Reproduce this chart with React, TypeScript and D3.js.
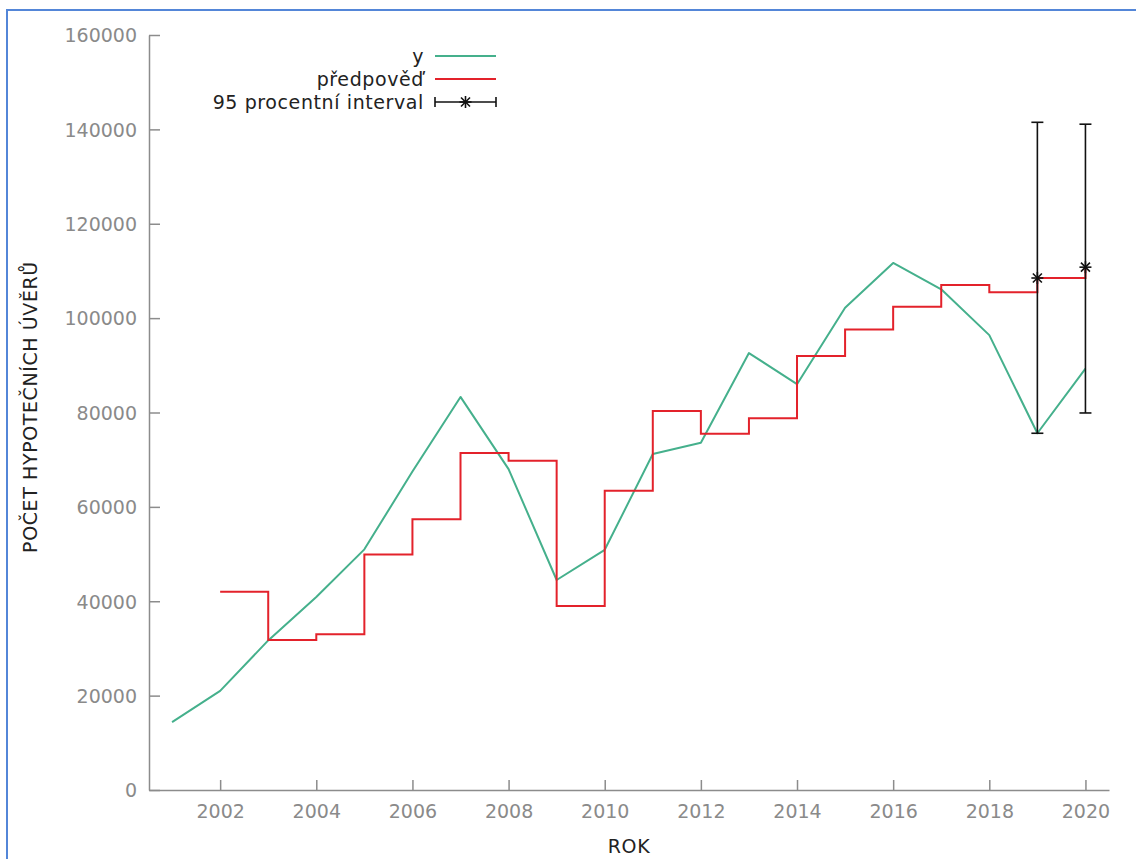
import { useEffect, useRef } from 'react'
import * as d3 from 'd3'

// observed series (y)
const years = [2001, 2002, 2003, 2004, 2005, 2006, 2007, 2008, 2009, 2010,
  2011, 2012, 2013, 2014, 2015, 2016, 2017, 2018, 2019, 2020]
const yValues = [14400, 21000, 31700, 40900, 51000, 67500, 83300, 68000, 44500, 50900,
  71200, 73600, 92600, 86000, 102200, 111700, 106100, 96400, 75600, 89300]

// one-step forecast (předpověď)
const predYears = [2002, 2003, 2004, 2005, 2006, 2007, 2008, 2009, 2010, 2011,
  2012, 2013, 2014, 2015, 2016, 2017, 2018, 2019, 2020]
const predValues = [42000, 31800, 33000, 49900, 57400, 71400, 69800, 39000, 63400, 80300,
  75500, 78800, 92000, 97600, 102400, 107000, 105500, 108500, 110800]

// 95% interval
const ciYears = [2019, 2020]
const ciCenter = [108500, 110800]
const ciLow = [75600, 79900]
const ciHigh = [141500, 141100]

const xTicks = [2002, 2004, 2006, 2008, 2010, 2012, 2014, 2016, 2018, 2020]
const yTicks = [0, 20000, 40000, 60000, 80000, 100000, 120000, 140000, 160000]

const legendLabels = ['y', 'předpověď', '95 procentní interval']

const FONT = '"DejaVu Sans", Verdana, sans-serif'
const GREEN = '#45b08c'
const RED = '#e3222b'
const AXIS = '#8c8c8c'
const TEXT = '#222'

export default function App() {
  const svgRef = useRef<SVGSVGElement>(null)

  useEffect(() => {
    if (!svgRef.current) return
    const svg = d3.select(svgRef.current)
    svg.selectAll('*').remove()

    const x = d3.scaleLinear().domain([2000.52, 2020.49]).range([149, 1109])
    const y = d3.scaleLinear().domain([0, 160000]).range([790, 35])

    // frame around the picture
    svg.append('rect')
      .attr('x', 7).attr('y', 10)
      .attr('width', 1300).attr('height', 1000)
      .attr('fill', 'none')
      .attr('stroke', '#5386d8')
      .attr('stroke-width', 2)

    // axes
    const xAxis = d3.axisBottom(x)
      .tickValues(xTicks)
      .tickFormat(d3.format('d'))
      .tickSizeInner(-10)
      .tickSizeOuter(0)
      .tickPadding(15)

    const yAxis = d3.axisLeft(y)
      .tickValues(yTicks)
      .tickFormat(d3.format('d'))
      .tickSizeInner(-11)
      .tickSizeOuter(0)
      .tickPadding(12)

    const gx = svg.append('g')
      .attr('transform', `translate(0, ${y(0)})`)
      .call(xAxis)
    const gy = svg.append('g')
      .attr('transform', `translate(${x.range()[0]}, 0)`)
      .call(yAxis)

    ;[gx, gy].forEach(g => {
      g.selectAll('path, line').attr('stroke', AXIS).attr('stroke-width', 1.5)
      g.selectAll('text')
        .attr('fill', '#8a8a8a')
        .style('font-family', FONT)
        .style('font-size', '19px')
    })
    gy.selectAll('text').attr('dy', '0.36em')

    const label = (sel: d3.Selection<SVGTextElement, unknown, null, undefined>) =>
      sel.style('font-family', FONT)
        .style('font-size', '19px')
        .style('letter-spacing', '0.6px')
        .attr('fill', TEXT)

    // axis titles
    svg.append('text')
      .attr('x', 629).attr('y', 853)
      .attr('text-anchor', 'middle')
      .call(label)
      .text('ROK')

    svg.append('text')
      .attr('transform', 'translate(37, 407) rotate(-90)')
      .attr('text-anchor', 'middle')
      .call(label)
      .text('POČET HYPOTEČNÍCH ÚVĚRŮ')

    // y line
    const line = d3.line<number>()
      .x((_, i) => x(years[i]))
      .y(d => y(d))
    svg.append('path')
      .datum(yValues)
      .attr('fill', 'none')
      .attr('stroke', GREEN)
      .attr('stroke-width', 2)
      .attr('stroke-linejoin', 'round')
      .attr('d', line)

    // forecast steps
    const stepLine = d3.line<number>()
      .x((_, i) => x(predYears[i]))
      .y(d => y(d))
      .curve(d3.curveStepAfter)
    svg.append('path')
      .datum(predValues)
      .attr('fill', 'none')
      .attr('stroke', RED)
      .attr('stroke-width', 2)
      .attr('d', stepLine)

    // error bars
    const star = (g: d3.Selection<SVGGElement, unknown, null, undefined>, cx: number, cy: number) => {
      const r = 6
      const segs = [[-r, 0, r, 0], [0, -r, 0, r], [-r * 0.75, -r * 0.75, r * 0.75, r * 0.75], [-r * 0.75, r * 0.75, r * 0.75, -r * 0.75]]
      segs.forEach(s => {
        g.append('line')
          .attr('x1', cx + s[0]).attr('y1', cy + s[1])
          .attr('x2', cx + s[2]).attr('y2', cy + s[3])
          .attr('stroke', '#111').attr('stroke-width', 1.6)
      })
    }

    const ci = svg.append('g')
    ciYears.forEach((yr, i) => {
      const cx = x(yr)
      ci.append('line')
        .attr('x1', cx).attr('x2', cx)
        .attr('y1', y(ciLow[i])).attr('y2', y(ciHigh[i]))
        .attr('stroke', '#111').attr('stroke-width', 1.6)
      ;[ciLow[i], ciHigh[i]].forEach(v => {
        ci.append('line')
          .attr('x1', cx - 6).attr('x2', cx + 6)
          .attr('y1', y(v)).attr('y2', y(v))
          .attr('stroke', '#111').attr('stroke-width', 1.6)
      })
      star(ci, cx, y(ciCenter[i]))
    })

    // legend
    const legend = svg.append('g')
    legendLabels.forEach((text, i) => {
      const ly = 56 + i * 23
      legend.append('text')
        .attr('x', 424).attr('y', ly)
        .attr('dy', '0.36em')
        .attr('text-anchor', 'end')
        .call(label)
        .text(text)
      if (i < 2) {
        legend.append('line')
          .attr('x1', 435).attr('x2', 496)
          .attr('y1', ly).attr('y2', ly)
          .attr('stroke', i === 0 ? GREEN : RED)
          .attr('stroke-width', 2)
      } else {
        legend.append('line')
          .attr('x1', 435).attr('x2', 496)
          .attr('y1', ly).attr('y2', ly)
          .attr('stroke', '#111').attr('stroke-width', 1.6)
        ;[435, 496].forEach(cx => {
          legend.append('line')
            .attr('x1', cx).attr('x2', cx)
            .attr('y1', ly - 5).attr('y2', ly + 5)
            .attr('stroke', '#111').attr('stroke-width', 1.6)
        })
        star(legend, 465.5, ly)
      }
    })
  }, [])

  return (
    <svg
      ref={svgRef}
      width={1136}
      height={859}
      style={{ position: 'absolute', left: 0, top: 0, background: '#fff' }}
    />
  )
}
